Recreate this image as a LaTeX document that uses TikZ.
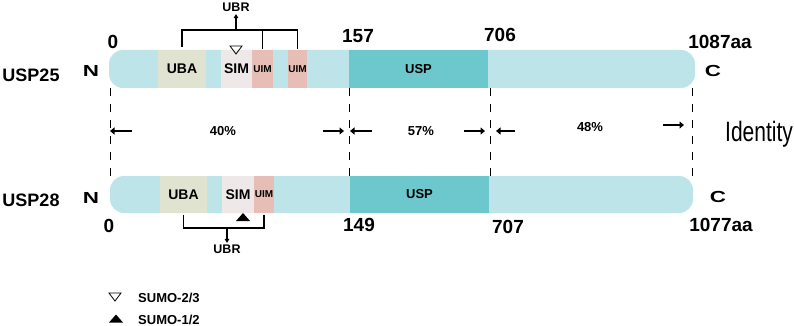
\documentclass[tikz,border=0pt]{standalone}
\usepackage{fontspec}
\setmainfont{Liberation Sans}
\usetikzlibrary{arrows.meta}

\definecolor{barcol}{HTML}{BDE5E9}
\definecolor{ubacol}{HTML}{E0E3CF}
\definecolor{simcol}{HTML}{EFE8E8}
\definecolor{uimcol}{HTML}{E6BEB5}
\definecolor{uspcol}{HTML}{6CC8CC}

\tikzset{
  sumoopen/.pic={\draw[line width=0.8pt] (-6,-4) -- (6,-4) -- (0,4) -- cycle;},
  sumofill/.pic={\fill (-7,4) -- (7,4) -- (0,-4) -- cycle;}
}

\begin{document}
\begin{tikzpicture}[x=1pt, y=-1pt,
  bar/.style={anchor=west, fill=barcol, rounded corners=14pt, minimum height=38pt, inner sep=0pt, outer sep=0pt},
  dom/.style={anchor=west, minimum height=38pt, inner sep=0pt, outer sep=0pt, font=\bfseries\fontsize{14}{14}\selectfont},
  uimtext/.style={font=\bfseries\fontsize{10}{10}\selectfont},
  usptext/.style={font=\bfseries\fontsize{13}{13}\selectfont},
  namelab/.style={inner sep=0pt, font=\bfseries\fontsize{18}{18}\selectfont},
  endlab/.style={inner sep=0pt, font=\bfseries\fontsize{16}{16}\selectfont},
  numlab/.style={inner sep=0pt, font=\bfseries\fontsize{19}{19}\selectfont},
  ubrlab/.style={inner sep=2pt, font=\bfseries\fontsize{12.5}{12.5}\selectfont},
  pctlab/.style={inner sep=0pt, font=\bfseries\fontsize{13}{13}\selectfont},
  legtext/.style={inner sep=0pt, anchor=base west, font=\bfseries\fontsize{13}{13}\selectfont},
  ubrline/.style={line width=1.6pt},
  ubrarrow/.style={line width=1.2pt, -{Triangle[length=4pt,width=4.5pt]}},
  idline/.style={line width=0.9pt, dash pattern=on 8pt off 8pt},
  idarrow/.style={line width=2pt, -{Triangle[length=4.5pt,width=7pt]}}
]
  \useasboundingbox (0,0) rectangle (794,326);

  % 蛋白条
  \node[bar, minimum width=586pt] (bar1) at (109,69) {};
  \node[bar, minimum width=583pt, minimum height=37pt] (bar2) at (110,194.5) {};

  % USP25 结构域
  \node[dom, fill=ubacol, minimum width=48pt] (uba1) at (158,69) {UBA};
  \node[dom, fill=simcol, minimum width=31pt] (sim1) at (221,69) {SIM};
  \node[dom, uimtext, fill=uimcol, minimum width=21pt] (uim1a) at (252,69) {UIM};
  \node[dom, uimtext, fill=uimcol, minimum width=19pt] (uim1b) at (288,69) {UIM};
  \node[dom, usptext, fill=uspcol, minimum width=139pt] (usp1) at (349,69) {USP};

  % USP28 结构域
  \node[dom, fill=ubacol, minimum width=47pt, minimum height=37pt] (uba2) at (160,194.5) {UBA};
  \node[dom, fill=simcol, minimum width=32pt, minimum height=37pt] (sim2) at (222,194.5) {SIM};
  \node[dom, uimtext, fill=uimcol, minimum width=20pt, minimum height=37pt] (uim2) at (254,194.5) {UIM};
  \node[dom, usptext, fill=uspcol, minimum width=139pt, minimum height=37pt] (usp2) at (350,194.5) {USP};

  % 名称与末端
  \node[namelab] (n25) at (31,75) {USP25};
  \node[namelab] (n28) at (31,200) {USP28};
  \node[endlab] (nend1) at (91,71) {\scalebox{1.4}[1]{N}};
  \node[endlab] (nend2) at (91,198) {\scalebox{1.4}[1]{N}};
  \node[endlab] (cend1) at (713,70.5) {\scalebox{1.4}[1]{C}};
  \node[endlab] (cend2) at (718,197) {\scalebox{1.4}[1]{C}};

  % 位置
  \node[numlab] (p0a) at (113,41.5) {0};
  \node[numlab] (p157) at (358,36.5) {157};
  \node[numlab] (p706) at (500,34.5) {706};
  \node[numlab] (p1087) at (720,41.5) {1087aa};
  \node[numlab] (p0b) at (109,226) {0};
  \node[numlab] (p149) at (359,225) {149};
  \node[numlab] (p707) at (508,227) {707};
  \node[numlab] (p1077) at (721,225) {1077aa};

  % UBR 括号
  \coordinate (br1) at (236,30);
  \draw[ubrline] ([yshift=3pt]uba1.north) |- (br1) -| ([yshift=1pt]uim1b.north);
  \draw[ubrline] ([yshift=1pt]uim1a.north) -- (uim1a.north |- br1);
  \node[ubrlab] (ubr1) at (236,7.5) {UBR};
  \draw[ubrarrow] (br1) -- (ubr1.south);

  \coordinate (br2) at (227,228);
  \draw[ubrline] ([yshift=-2pt]uba2.south) |- (br2) -| ([yshift=-2pt]uim2.south);
  \node[ubrlab] (ubr2) at (227,249.5) {UBR};
  \draw[ubrarrow] (br2) -- (ubr2.north);

  % SUMO 标记
  \pic (t25) at (236,50) {sumoopen};
  \pic (t28) at (243,217) {sumofill};

  % 虚线
  \draw[idline] ([xshift=1pt]bar1.south west) -- ([xshift=1pt]bar1.south west |- bar2.north);
  \draw[idline] (usp1.south west) -- (usp1.south west |- usp2.north);
  \draw[idline] ([xshift=2pt]usp1.south east) -- ([xshift=2pt]usp1.south east |- usp2.north);
  \draw[idline] ([xshift=-3pt]bar1.south east) -- ([xshift=-3pt]bar1.south east |- bar2.north);

  % 同源性箭头
  \coordinate (m0) at (110,131);
  \coordinate (m1) at (348,131);
  \coordinate (m2) at (491,131);
  \coordinate (m3) at (692,125);
  \draw[idarrow] ([xshift=22pt]m0) -- (m0);
  \draw[idarrow] ([xshift=-25pt]m1) -- ([xshift=-4pt]m1);
  \draw[idarrow] ([xshift=24pt]m1) -- ([xshift=2pt]m1);
  \draw[idarrow] ([xshift=-27pt]m2) -- ([xshift=-6pt]m2);
  \draw[idarrow] ([xshift=24pt]m2) -- ([xshift=5pt]m2);
  \draw[idarrow] ([xshift=-29pt]m3) -- ([xshift=-8pt]m3);
  \node[pctlab] (id40) at (223,131) {40\%};
  \node[pctlab] (id57) at (421,131) {57\%};
  \node[pctlab] (id48) at (590,127) {48\%};
  \node[anchor=base west, inner sep=0pt, font=\fontsize{28}{28}\selectfont] (ident) at (725,141) {\scalebox{0.75}[1]{Identity}};

  % 图例
  \pic (lg1) at (115,297) {sumoopen};
  \pic (lg2) at (116,318.5) {sumofill};
  \node[legtext] (lgt1) at (138,302) {SUMO-2/3};
  \node[legtext] (lgt2) at (138,324) {SUMO-1/2};
\end{tikzpicture}
\end{document}
